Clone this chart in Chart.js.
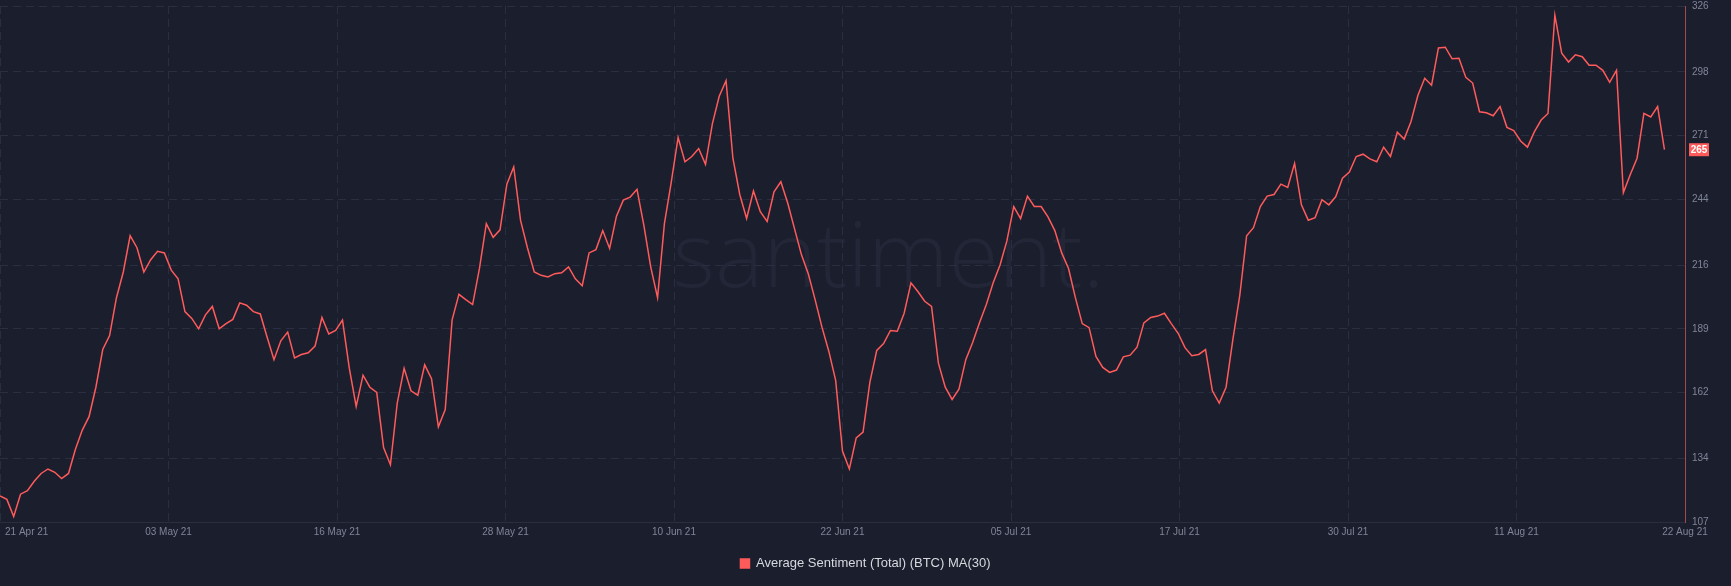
<!DOCTYPE html>
<html>
<head>
<meta charset="utf-8">
<script src="https://cdn.jsdelivr.net/npm/chart.js@4.4.1/dist/chart.umd.min.js"></script>
<style>
  html, body { margin: 0; padding: 0; background: #1b1e2d; }
  #wrap { width: 1731px; height: 586px; position: relative; }
</style>
</head>
<body>
<div id="wrap"><canvas id="sentimentChart"></canvas></div>
<script>
/* Santiment-style "Average Sentiment (Total) (BTC) MA(30)" line, dark theme. */
const SERIES_LABEL = "Average Sentiment (Total) (BTC) MA(30)";

// one value every 12 hours, starting 21 Apr 21
const sentimentMa30 = [
  118.1, 116.6, 109.3, 118.8, 120.3, 124.3, 127.6, 129.5, 128.1, 125.4,
  127.6, 137.8, 145.9, 151.7, 164.2, 180.2, 186.1, 202.2, 213.1, 228.5,
  223.4, 213.1, 218.3, 221.9, 221.2, 213.9, 210.2, 196.3, 193.4, 189.0,
  194.9, 198.5, 189.0, 191.2, 193.0, 200.0, 199.0, 196.3, 195.3, 185.4,
  175.9, 183.9, 187.6, 176.6, 178.1, 178.8, 181.7, 193.8, 186.8, 188.3,
  192.7, 172.2, 156.1, 169.3, 164.2, 162.0, 138.6, 131.3, 157.6, 172.2,
  162.7, 160.8, 173.7, 167.8, 147.4, 154.7, 192.7, 203.6, 201.4, 199.3,
  214.6, 233.6, 227.8, 231.0, 250.4, 257.7, 235.0, 223.4, 213.1, 211.7,
  211.0, 212.4, 212.8, 215.3, 210.2, 207.3, 221.2, 222.6, 230.7, 223.1,
  236.8, 243.6, 244.9, 248.2, 232.9, 215.3, 202.2, 233.6, 251.2, 270.2,
  259.9, 262.1, 265.5, 258.8, 276.0, 287.7, 294.3, 261.4, 246.0, 235.8,
  247.5, 238.7, 234.6, 247.1, 251.4, 242.4, 231.4, 220.5, 212.4, 201.4,
  189.7, 179.5, 167.1, 137.1, 129.5, 142.7, 145.2, 166.4, 179.8, 182.7,
  188.3, 188.0, 195.6, 208.5, 204.8, 200.7, 198.5, 174.4, 164.2, 159.0,
  163.4, 175.9, 183.2, 191.6, 199.3, 208.5, 216.1, 226.3, 240.9, 235.8,
  245.3, 240.9, 240.9, 236.5, 230.7, 221.2, 214.6, 202.2, 191.2, 189.5,
  177.3, 172.6, 170.5, 171.5, 177.1, 177.8, 181.2, 191.5, 193.8, 194.4,
  195.6, 191.2, 187.1, 181.0, 177.6, 178.1, 180.2, 162.7, 157.5, 164.2,
  184.6, 203.2, 228.5, 231.9, 240.9, 245.3, 246.0, 250.4, 249.0, 259.2,
  241.6, 235.1, 236.2, 243.8, 241.6, 245.0, 252.9, 255.5, 262.1, 263.1,
  261.1, 259.9, 266.1, 262.1, 272.4, 269.5, 277.0, 288.0, 295.3, 292.4,
  308.2, 308.5, 303.6, 303.8, 295.7, 293.3, 281.1, 280.7, 279.4, 283.3,
  274.5, 273.1, 268.7, 266.1, 272.6, 277.6, 280.4, 322.1, 306.0, 302.2,
  305.3, 304.5, 300.9, 300.9, 298.7, 293.6, 298.7, 246.8, 254.4, 261.4,
  280.4, 278.9, 283.3, 265.0
];

const xTickLabels = [
  "21 Apr 21", "03 May 21", "16 May 21", "28 May 21", "10 Jun 21", "22 Jun 21",
  "05 Jul 21", "17 Jul 21", "30 Jul 21", "11 Aug 21", "22 Aug 21"
];
const yTicks = [107, 134, 162, 189, 216, 244, 271, 298, 326];
const X_SPAN = 246; // half-days from 21 Apr to 22 Aug

const COLORS = {
  bg: "#1b1e2d",
  line: "#ff5b5b",
  grid: "#2a2e41",
  axisRed: "#a9474f",
  tick: "#7f8598",
  legend: "#d6d8de",
  watermark: "#222637",
};
const FONT = "'Liberation Sans', Arial, sans-serif";

const bgPlugin = {
  id: "bg",
  beforeDraw(chart) {
    const { ctx, width, height, chartArea } = chart;
    ctx.save();
    ctx.fillStyle = COLORS.bg;
    ctx.fillRect(0, 0, width, height);
    // faint logo text behind the plot
    ctx.fillStyle = COLORS.watermark;
    ctx.textBaseline = "alphabetic";
    ctx.font = `300 100px 'Open Sans', ${FONT}`;
    const w = ctx.measureText("santiment.").width;
    const size = 100 * 432 / w;
    ctx.font = `300 ${size}px 'Open Sans', ${FONT}`;
    const cx = (chartArea.left + chartArea.right) / 2 + 46;
    ctx.textAlign = "center";
    ctx.fillText("santiment.", cx, 287);
    ctx.restore();
  },
};

const xLabelPlugin = {
  id: "xLabels",
  afterDraw(chart) {
    const { ctx, scales, chartArea } = chart;
    const x = scales.x;
    ctx.save();
    ctx.fillStyle = COLORS.tick;
    ctx.font = `10px ${FONT}`;
    ctx.textBaseline = "middle";
    xTickLabels.forEach((label, k) => {
      const px = x.getPixelForValue((k * X_SPAN) / (xTickLabels.length - 1));
      ctx.textAlign = k === 0 ? "left" : "center";
      ctx.fillText(label, k === 0 ? px + 5 : px, chartArea.bottom + 10);
    });
    ctx.restore();
  },
};

const lastValuePlugin = {
  id: "lastValue",
  afterDraw(chart) {
    const { ctx, scales, chartArea } = chart;
    const last = sentimentMa30[sentimentMa30.length - 1];
    const py = scales.y.getPixelForValue(last);
    ctx.save();
    ctx.fillStyle = COLORS.line;
    ctx.fillRect(chartArea.right + 4, py - 6.5, 20, 13);
    ctx.fillStyle = "#ffffff";
    ctx.font = `bold 10px ${FONT}`;
    ctx.textAlign = "center";
    ctx.textBaseline = "middle";
    ctx.fillText(String(Math.round(last)), chartArea.right + 14, py + 0.5);
    ctx.restore();
  },
};

new Chart(document.getElementById("sentimentChart"), {
  type: "line",
  data: {
    datasets: [
      {
        label: SERIES_LABEL,
        data: sentimentMa30.map((v, i) => ({ x: i, y: v })),
        borderColor: COLORS.line,
        backgroundColor: COLORS.line,
        borderWidth: 1.5,
        pointRadius: 0,
        tension: 0,
      },
    ],
  },
  options: {
    responsive: true,
    maintainAspectRatio: false,
    animation: false,
    layout: { padding: { left: 0, right: 0, top: 0, bottom: 6 } },
    plugins: {
      tooltip: { enabled: false },
      legend: {
        position: "bottom",
        labels: {
          color: COLORS.legend,
          font: { size: 13, family: FONT },
          boxWidth: 9,
          boxHeight: 9,
          padding: 10,
        },
      },
    },
    scales: {
      x: {
        type: "linear",
        min: 0,
        max: X_SPAN,
        afterBuildTicks(scale) {
          scale.ticks = xTickLabels.map((_, k) => ({ value: (k * X_SPAN) / (xTickLabels.length - 1) }));
        },
        afterFit(scale) {
          scale.height = 25;
        },
        ticks: { display: false },
        grid: { color: COLORS.grid, drawTicks: false },
        border: { display: true, color: COLORS.grid, dash: [8, 5] },
      },
      y: {
        position: "right",
        min: 107,
        max: 326,
        afterBuildTicks(scale) {
          scale.ticks = yTicks.map((v) => ({ value: v }));
        },
        afterFit(scale) {
          scale.width = 46;
          scale.paddingTop = 6;
          scale.paddingBottom = 0;
        },
        ticks: {
          color: COLORS.tick,
          font: { size: 10, family: FONT },
          padding: 7,
          callback: (v) => String(v),
        },
        grid: { color: COLORS.grid, drawTicks: false },
        border: { display: true, color: COLORS.axisRed, dash: [8, 5] },
      },
    },
  },
  plugins: [bgPlugin, xLabelPlugin, lastValuePlugin],
});
</script>
</body>
</html>
